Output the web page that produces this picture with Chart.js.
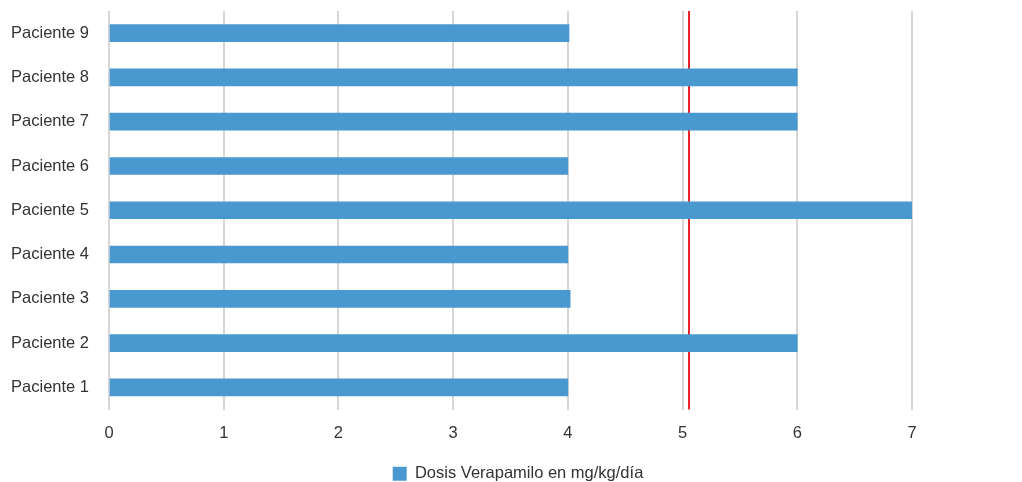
<!DOCTYPE html>
<html lang="es">
<head>
<meta charset="utf-8">
<script src="https://cdn.jsdelivr.net/npm/chart.js@4/dist/chart.umd.min.js"></script>
<style>
  html, body { margin: 0; padding: 0; background: #ffffff; }
  #wrap { width: 1022px; height: 482px; position: relative; }
</style>
</head>
<body>
<div id="wrap"><canvas id="chart" width="1022" height="482"></canvas></div>
<script>
// Patients listed top-to-bottom on the category axis
const pacientes = [
  'Paciente 9', 'Paciente 8', 'Paciente 7', 'Paciente 6', 'Paciente 5',
  'Paciente 4', 'Paciente 3', 'Paciente 2', 'Paciente 1'
];
// Verapamil dose per patient (mg/kg/día), same order as above
const dosis = [4.01, 6, 6, 4, 7, 4, 4.02, 6, 4];
// Reference dose marked with a vertical red line
const dosisReferencia = 5.06;
const serieNombre = 'Dosis Verapamilo en mg/kg/día';
const ejeMin = 0;
const ejeMax = 7;

const FONT = { family: '"Liberation Sans", Arial, sans-serif', size: 16.5 };
const TEXT = '#333333';

// Vertical reference line, painted under the bars like a gridline
const lineaReferencia = {
  id: 'lineaReferencia',
  beforeDatasetsDraw(chart) {
    const { ctx, chartArea, scales } = chart;
    const x = Math.round(scales.x.getPixelForValue(dosisReferencia));
    ctx.save();
    ctx.strokeStyle = '#e8262b';
    ctx.lineWidth = 2;
    ctx.beginPath();
    ctx.moveTo(x, chartArea.top);
    ctx.lineTo(x, chartArea.bottom);
    ctx.stroke();
    ctx.restore();
  }
};

new Chart(document.getElementById('chart'), {
  type: 'bar',
  data: {
    labels: pacientes,
    datasets: [{
      label: serieNombre,
      data: dosis,
      backgroundColor: '#4a98d0',
      borderWidth: 0,
      barThickness: 17
    }]
  },
  options: {
    indexAxis: 'y',
    responsive: false,
    animation: false,
    layout: { padding: { left: 10, right: -4, top: 11, bottom: -10 } },
    plugins: {
      legend: {
        position: 'bottom',
        labels: {
          color: TEXT,
          font: FONT,
          boxWidth: 14,
          boxHeight: 14,
          padding: 4
        }
      },
      tooltip: { enabled: false }
    },
    scales: {
      x: {
        min: ejeMin,
        max: ejeMax,
        ticks: { stepSize: 1, color: TEXT, font: FONT, padding: 14 },
        grid: { color: '#d6d6d6', lineWidth: 2, drawTicks: false },
        border: { display: false },
        afterFit(scale) {
          scale.height = 52;
          scale.paddingRight = 110;
        }
      },
      y: {
        ticks: { color: TEXT, font: FONT, padding: 20 },
        grid: { display: false, drawTicks: false },
        border: { display: false },
        afterFit(scale) {
          scale.width = 99;
          scale.paddingTop = 0;
          scale.paddingBottom = 0;
        }
      }
    }
  },
  plugins: [lineaReferencia]
});
</script>
</body>
</html>
